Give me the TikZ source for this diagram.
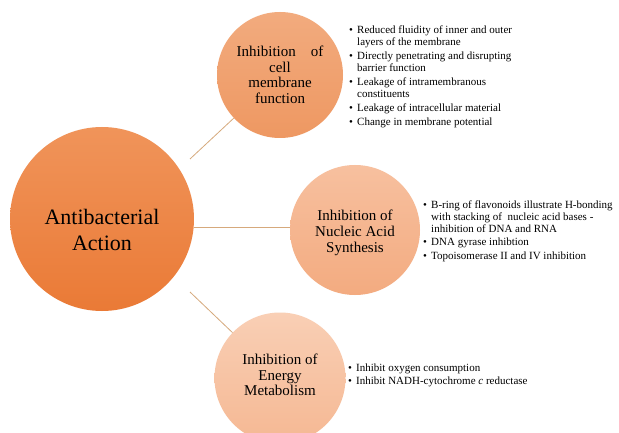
\documentclass[tikz,border=0pt]{standalone}
\usepackage{fontspec}
\setmainfont{Liberation Serif}
\definecolor{linkc}{HTML}{D6A97C}
\definecolor{hubtop}{HTML}{F0945A}
\definecolor{hubbot}{HTML}{EA7A36}
\definecolor{memtop}{HTML}{F2AB7E}
\definecolor{membot}{HTML}{EE9862}
\definecolor{nuctop}{HTML}{F7C09F}
\definecolor{nucbot}{HTML}{F3AB80}
\definecolor{engtop}{HTML}{F9CFB5}
\definecolor{engbot}{HTML}{F5B893}
\newcommand{\bul}{\makebox[8pt][l]{\textbullet}}
\newcommand{\cont}{\hspace*{8pt}}
\begin{document}
\begin{tikzpicture}[x=1pt,y=-1pt,
  disc/.style={circle, inner sep=0pt, draw=none},
  link/.style={draw=linkc, line width=0.8pt},
  lbl/.style={align=center, inner sep=0pt, font=\fontsize{15}{15.5}\selectfont},
  blist/.style={anchor=north west, align=left, inner sep=0pt, font=\fontsize{11}{12}\selectfont}]
\useasboundingbox[fill=white] (0,0) rectangle (619,433);

% circles
\node[disc, minimum size=184pt, top color=hubtop, bottom color=hubbot] (main) at (102,219) {};
\node[disc, minimum size=126pt, top color=memtop, bottom color=membot] (mem) at (280,75) {};
\node[disc, minimum size=130pt, top color=nuctop, bottom color=nucbot] (nuc) at (355,230) {};
\node[disc, minimum size=131pt, top color=engtop, bottom color=engbot] (eng) at (280,378) {};

% circle labels
\node[align=center, inner sep=0pt, font=\fontsize{22}{26}\selectfont] (mainlbl) at (102,230) {Antibacterial\\Action};
\node[lbl] (memlbl) at (280,75) {Inhibition\hspace{1em}of\\cell\\membrane\\function};
\node[lbl, font=\fontsize{15}{16}\selectfont] (nuclbl) at (355,233) {Inhibition of\\Nucleic Acid\\Synthesis};
\node[lbl] (englbl) at (280,375) {Inhibition of\\Energy\\Metabolism};

% connectors
\coordinate (s1) at (190,159);
\coordinate (s2) at (194,227);
\coordinate (s3) at (190,292);
\draw[link] (s1) -- (mem);
\draw[link] (s2) -- (s2 -| nuc.west);
\draw[link] (s3) -- (eng);

% bullet lists
\node[blist] (memlist) at (349,25.5) {%
\bul Reduced fluidity of inner and outer\\
\cont layers of the membrane\\[2pt]
\bul Directly penetrating and disrupting\\
\cont barrier function\\[2pt]
\bul Leakage of intramembranous\\
\cont constituents\\[2pt]
\bul Leakage of intracellular material\\[2pt]
\bul Change in membrane potential};

\node[blist] (nuclist) at (423,200.5) {%
\bul B-ring of flavonoids illustrate H-bonding\\
\cont with stacking of\ \ nucleic acid bases -\\
\cont inhibition of DNA and RNA\\[1.5pt]
\bul DNA gyrase inhibtion\\[1.5pt]
\bul Topoisomerase II and IV inhibition};

\node[blist] (englist) at (348,363.5) {%
\bul Inhibit oxygen consumption\\[1pt]
\bul Inhibit NADH-cytochrome \textit{c} reductase};
\end{tikzpicture}
\end{document}
